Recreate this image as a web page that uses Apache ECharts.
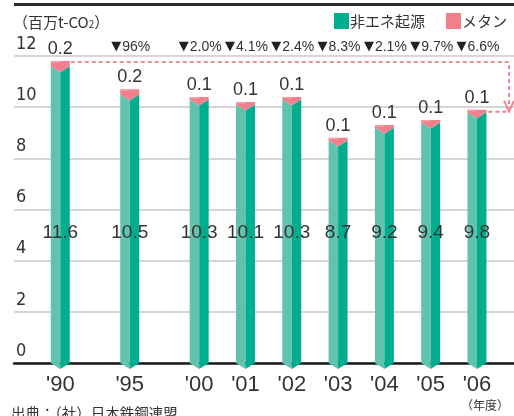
<!DOCTYPE html>
<html>
<head>
<meta charset="utf-8">
<script src="https://cdn.jsdelivr.net/npm/echarts@6/dist/echarts.min.js"></script>
<style>
  html, body { margin: 0; padding: 0; background: #fff; }
  #chart { width: 514px; height: 416px; }
</style>
</head>
<body>
<div id="chart"></div>
<script>
// Fiscal years and their horizontal slot on the x scale (the gap after '90 and '95 is wider)
const years = ["'90", "'95", "'00", "'01", "'02", "'03", "'04", "'05", "'06"];
const slots = [0, 3, 6, 8, 10, 12, 14, 16, 18];
// Emissions, million t-CO2
const nonEnergy = [11.6, 10.5, 10.3, 10.1, 10.3, 8.7, 9.2, 9.4, 9.8];
const methane = [0.2, 0.2, 0.1, 0.1, 0.1, 0.1, 0.1, 0.1, 0.1];
// Year-on-year change shown above each column
const changes = ['', '96%', '2.0%', '4.1%', '2.4%', '8.3%', '2.1%', '9.7%', '6.6%'];
const yTicks = [0, 2, 4, 6, 8, 10, 12];

const GREEN_LIGHT = '#5fc3ae';
const GREEN_DARK = '#00ae8f';
const PINK = '#f27f8c';
const PINK_LIGHT = '#f7a2ab';
const TEXT = '#333333';
const NUM_FONT = '"Liberation Sans", Arial, sans-serif';
const AXIS_FONT = '"Liberation Sans Narrow", "DejaVu Sans Condensed", "Liberation Sans", sans-serif';
const JP_FONT = '"Noto Sans CJK JP", "Noto Sans", sans-serif';

const COL_W = 0.82;   // column width in x-scale units
const TIP = 6;        // depth of the V at the bottom of each face (px)
const INNER_LABEL_AT = 5.1;

function columnGeom(api, x, v0, v1) {
  const b = api.coord([x, v0]);
  const t = api.coord([x, v1]);
  const half = api.size([COL_W, 0])[0] / 2;
  return { C: b[0], L: b[0] - half, R: b[0] + half, yb: b[1], yt: t[1] };
}

const chart = echarts.init(document.getElementById('chart'));

chart.setOption({
  animation: false,
  grid: { left: 14, right: 0, top: 56, bottom: 53, containLabel: false },
  xAxis: {
    type: 'value', min: -2, max: 19.6,
    axisLine: { show: true, onZero: true, lineStyle: { color: '#1a1a1a', width: 2.5 } },
    axisTick: { show: false }, axisLabel: { show: false }, splitLine: { show: false }
  },
  yAxis: {
    type: 'value', min: yTicks[0], max: yTicks[yTicks.length - 1], interval: 2,
    axisLine: { show: false }, axisTick: { show: false },
    axisLabel: {
      inside: true, margin: 2, align: 'left', verticalAlign: 'bottom',
      fontFamily: AXIS_FONT, fontSize: 18, color: TEXT, lineHeight: 18, padding: [0, 0, 3, 0]
    },
    splitLine: { lineStyle: { color: '#c9c9c9', width: 1.5 } }
  },
  legend: {
    data: ['非エネ起源', 'メタン'],
    left: 334, top: 13, padding: 0, itemGap: 21,
    itemWidth: 15, itemHeight: 16, icon: 'rect',
    textStyle: { fontFamily: JP_FONT, fontSize: 15, color: TEXT, padding: [0, 0, 0, -4] }
  },
  graphic: [
    { type: 'rect', left: 14, top: 3, shape: { width: 500, height: 3 }, style: { fill: '#2a2a2a' } },
    {
      type: 'text', left: 13, top: 15,
      style: {
        text: '（百万t-CO{s|2}）', fontFamily: JP_FONT, fontSize: 15, fill: TEXT,
        rich: { s: { fontSize: 10, fontFamily: JP_FONT, fill: TEXT, padding: [4, 0, 0, 0] } }
      }
    },
    { type: 'text', left: 461, top: 399, style: { text: '（年度）', fontFamily: JP_FONT, fontSize: 12, fill: TEXT } },
    { type: 'text', left: 11, top: 406, style: { text: '出典：（社）日本鉄鋼連盟', fontFamily: JP_FONT, fontSize: 14.5, fill: TEXT } }
  ],
  series: [
    {
      name: '非エネ起源', type: 'custom', z: 3,
      itemStyle: { color: GREEN_DARK },
      data: slots.map((s, i) => [s, nonEnergy[i]]),
      renderItem: function (params, api) {
        const x = api.value(0), v = api.value(1);
        const g = columnGeom(api, x, 0, v);
        const lab = api.coord([x, INNER_LABEL_AT]);
        return {
          type: 'group',
          children: [
            { type: 'polygon', shape: { points: [[g.L, g.yt], [g.C, g.yt + TIP], [g.C, g.yb + TIP], [g.L, g.yb]] }, style: { fill: GREEN_LIGHT } },
            { type: 'polygon', shape: { points: [[g.C, g.yt + TIP], [g.R, g.yt], [g.R, g.yb], [g.C, g.yb + TIP]] }, style: { fill: GREEN_DARK } },
            {
              type: 'text', x: lab[0], y: lab[1],
              style: { text: v.toFixed(1), fontFamily: NUM_FONT, fontSize: 19, fill: TEXT, align: 'center', verticalAlign: 'middle' }
            }
          ]
        };
      }
    },
    {
      name: 'メタン', type: 'custom', z: 4,
      itemStyle: { color: PINK },
      data: slots.map((s, i) => [s, nonEnergy[i], methane[i]]),
      renderItem: function (params, api) {
        const x = api.value(0), v0 = api.value(1), m = api.value(2);
        const g = columnGeom(api, x, v0, v0 + m);
        return {
          type: 'group',
          children: [
            { type: 'polygon', shape: { points: [[g.L, g.yt], [g.R, g.yt], [g.R, g.yb], [g.C, g.yb + TIP], [g.L, g.yb]] }, style: { fill: PINK } },
            { type: 'polygon', shape: { points: [[g.L, g.yt], [g.C, g.yt], [g.C, g.yt + 1.5], [g.L, g.yt + 1.5]] }, style: { fill: PINK_LIGHT } },
            {
              type: 'text', x: g.C, y: g.yt - 3,
              style: { text: m.toFixed(1), fontFamily: NUM_FONT, fontSize: 18, fill: TEXT, align: 'center', verticalAlign: 'bottom' }
            }
          ]
        };
      }
    },
    {
      // Year labels, change rates and the '90 -> '06 comparison arrow
      name: 'notes', type: 'custom', z: 5, silent: true,
      data: slots.map((s, i) => [s, i]),
      renderItem: function (params, api) {
        const x = api.value(0), i = api.value(1);
        const base = api.coord([x, 0]);
        const topTick = api.coord([x, yTicks[yTicks.length - 1]]);
        const children = [
          {
            type: 'text', x: base[0], y: base[1] + 22,
            style: { text: years[i], fontFamily: NUM_FONT, fontSize: 22, fill: TEXT, align: 'center', verticalAlign: 'middle' }
          }
        ];
        if (changes[i]) {
          children.push({
            type: 'text', x: base[0] + 1, y: topTick[1] - 9,
            style: {
              text: '{t|▼}{p|' + changes[i] + '}', align: 'center', verticalAlign: 'middle',
              rich: {
                t: { fontFamily: '"DejaVu Sans", sans-serif', fontSize: 13, fill: '#222', padding: [0, 1, 0, 0] },
                p: { fontFamily: NUM_FONT, fontSize: 14, fill: TEXT }
              }
            }
          });
        }
        if (i === 0) {
          const last = slots.length - 1;
          const a = columnGeom(api, slots[0], 0, nonEnergy[0] + methane[0]);
          const b = columnGeom(api, slots[last], 0, nonEnergy[last] + methane[last]);
          const xr = api.coord([19.6, 0])[0] - 5;
          const dash = { stroke: PINK, lineWidth: 1.8, lineDash: [4, 3], fill: null };
          const solid = { stroke: PINK, lineWidth: 1.8, fill: null };
          children.push(
            { type: 'polyline', shape: { points: [[a.R + 1, a.yt + 1], [xr, a.yt + 1], [xr, b.yt - 2]] }, style: dash },
            { type: 'line', shape: { x1: b.R + 2, y1: b.yt + 2, x2: xr - 2, y2: b.yt + 2 }, style: dash },
            { type: 'polyline', shape: { points: [[xr - 5, b.yt - 9], [xr, b.yt + 2], [xr + 5, b.yt - 9]] }, style: solid }
          );
        }
        return { type: 'group', children: children };
      }
    }
  ]
});
</script>
</body>
</html>
